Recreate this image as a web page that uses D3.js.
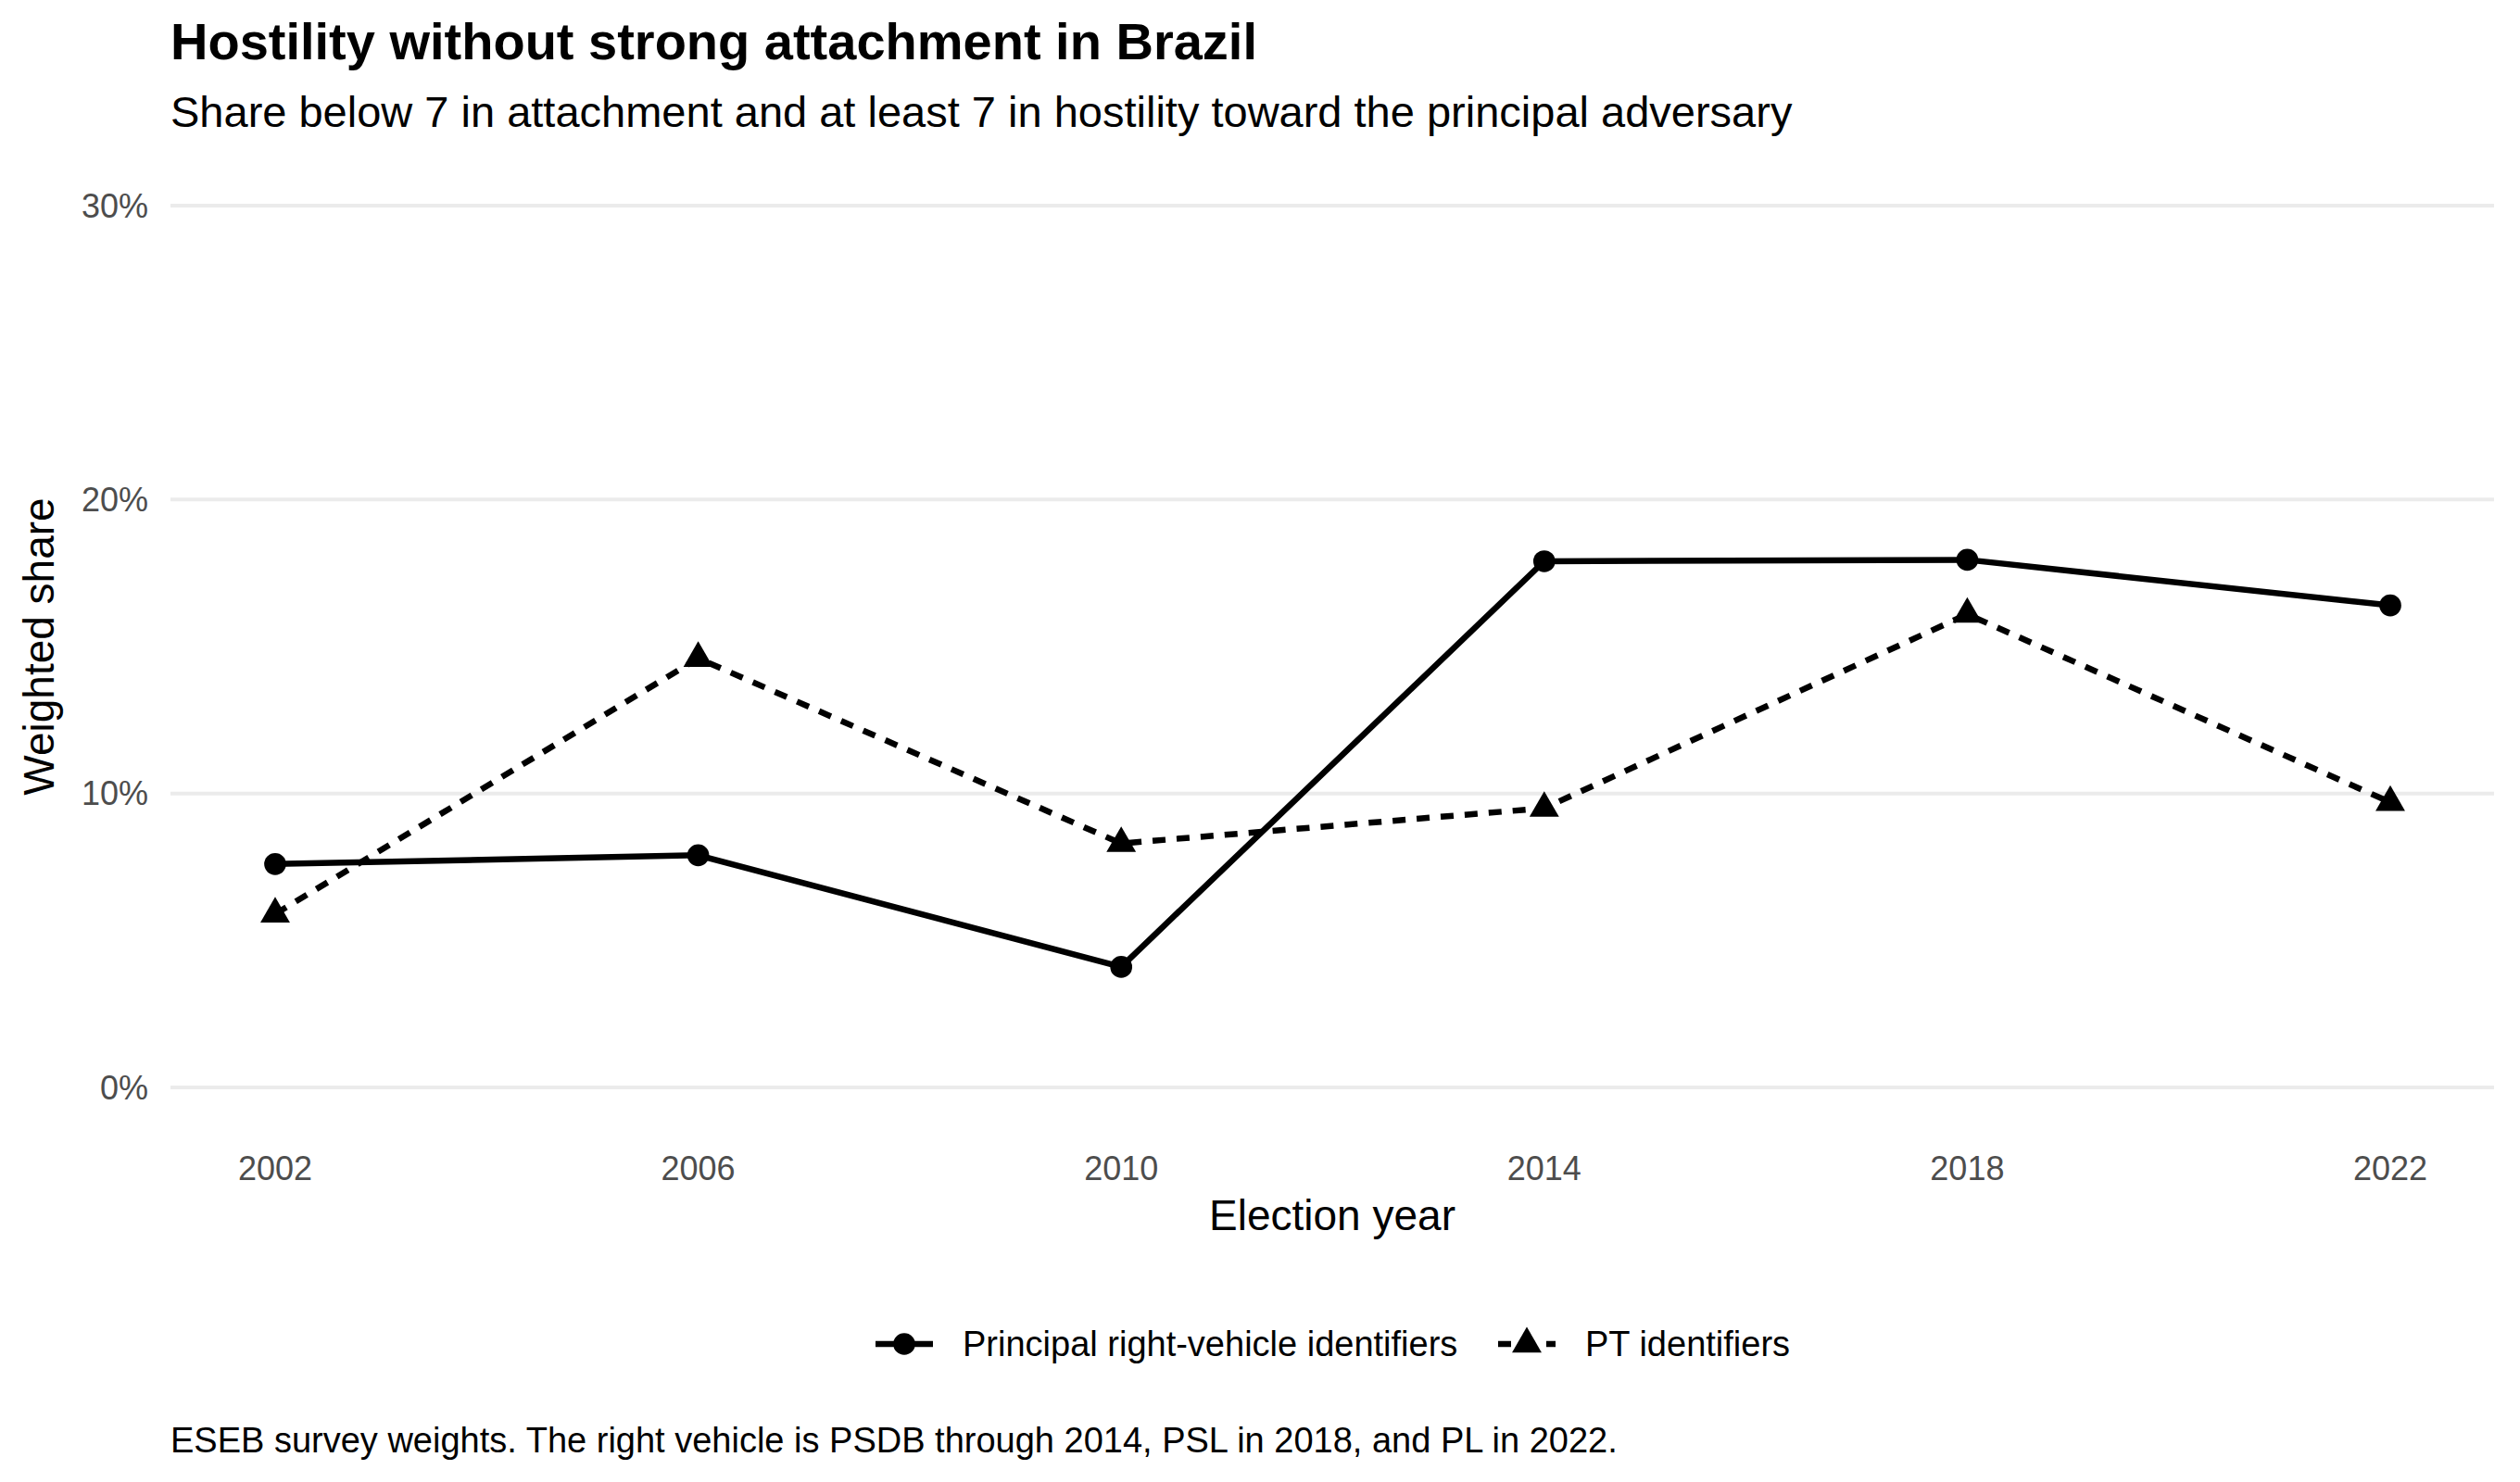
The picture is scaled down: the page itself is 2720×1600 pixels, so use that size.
<!DOCTYPE html>
<html><head><meta charset="utf-8">
<script src="https://cdn.jsdelivr.net/npm/d3@7"></script>
<style>body{margin:0;background:#fff}text{font-family:"Liberation Sans",Arial,sans-serif}</style>
</head><body><div id="chart"></div>
<script>
const years = [2002, 2006, 2010, 2014, 2018, 2022]
const rightShare = [7.6, 7.9, 4.1, 17.9, 17.95, 16.4]
const ptShare = [5.9, 14.6, 8.3, 9.5, 16.1, 9.7]
const yTicks = [0, 10, 20, 30]

const W = 2720, H = 1600
const svg = d3.select('#chart').append('svg').attr('width', W).attr('height', H)

const x = d3.scaleLinear().domain([2002, 2022]).range([297, 2580])
const y = d3.scaleLinear().domain([0, 30]).range([1174, 222])

svg.append('text').attr('x', 184).attr('y', 64).attr('font-size', 56).attr('font-weight', 'bold')
  .text('Hostility without strong attachment in Brazil')
svg.append('text').attr('x', 184).attr('y', 137).attr('font-size', 47)
  .text('Share below 7 in attachment and at least 7 in hostility toward the principal adversary')

// grid
svg.selectAll('.grid').data(yTicks).enter().append('line')
  .attr('x1', 184).attr('x2', 2692).attr('y1', d => y(d)).attr('y2', d => y(d))
  .attr('stroke', '#ebebeb').attr('stroke-width', 4)

svg.selectAll('.ytick').data(yTicks).enter().append('text')
  .attr('x', 160).attr('y', d => y(d)).attr('dy', '0.35em').attr('text-anchor', 'end')
  .attr('font-size', 36).attr('fill', '#4d4d4d').text(d => d + '%')
svg.selectAll('.xtick').data(years).enter().append('text')
  .attr('x', d => x(d)).attr('y', 1274).attr('text-anchor', 'middle')
  .attr('font-size', 36).attr('fill', '#4d4d4d').text(d => d)

svg.append('text').attr('x', 1438).attr('y', 1328).attr('text-anchor', 'middle').attr('font-size', 46).text('Election year')
svg.append('text').attr('transform', 'translate(58,698) rotate(-90)').attr('text-anchor', 'middle').attr('font-size', 46).text('Weighted share')

const line = d3.line().x((d, i) => x(years[i])).y(d => y(d))
const series = [
  { vals: rightShare, dash: null, shape: d3.symbolCircle },
  { vals: ptShare, dash: '14,12', shape: d3.symbolTriangle }
]
series.forEach(s => {
  svg.append('path').datum(s.vals).attr('d', line).attr('fill', 'none')
    .attr('stroke', '#000').attr('stroke-width', 6.5).attr('stroke-dasharray', s.dash)
  svg.selectAll(null).data(s.vals).enter().append('path')
    .attr('d', d3.symbol().type(s.shape).size(440))
    .attr('transform', (d, i) => `translate(${x(years[i])},${y(d)})`)
})

// legend
const legend = [
  { label: 'Principal right-vehicle identifiers', x0: 945, dash: null, shape: d3.symbolCircle },
  { label: 'PT identifiers', x0: 1617, dash: '14,12', shape: d3.symbolTriangle }
]
legend.forEach(l => {
  const g = svg.append('g').attr('transform', `translate(${l.x0},1451)`)
  g.append('line').attr('x1', 0).attr('x2', 62).attr('stroke', '#000').attr('stroke-width', 6.5).attr('stroke-dasharray', l.dash)
  g.append('path').attr('d', d3.symbol().type(l.shape).size(440)).attr('transform', 'translate(31,0)')
  g.append('text').attr('x', 94).attr('dy', '0.35em').attr('font-size', 38).text(l.label)
})

svg.append('text').attr('x', 184).attr('y', 1568).attr('font-size', 38)
  .text('ESEB survey weights. The right vehicle is PSDB through 2014, PSL in 2018, and PL in 2022.')
</script></body></html>
